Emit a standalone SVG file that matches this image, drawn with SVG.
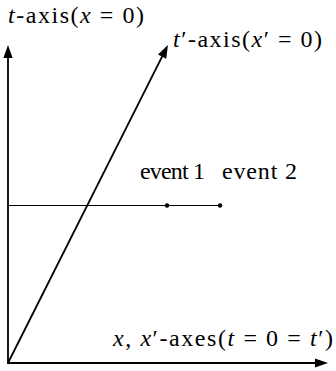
<svg xmlns="http://www.w3.org/2000/svg" width="336" height="371" viewBox="0 0 336 371">
<style>
.t{font-family:'Liberation Serif','Times New Roman',serif;font-size:24px;fill:#000}
.i{font-style:italic}
.ax{stroke:#000;stroke-width:1.8;fill:none}
.ln{stroke:#000;stroke-width:1.1;fill:none}
</style>
<defs>
<marker id="ah" markerUnits="userSpaceOnUse" markerWidth="15" markerHeight="11" viewBox="-11 -5.5 15 11" refX="0" refY="0" orient="auto">
<path d="M3,0 L-10,-4.6 L-10,4.6 Z" fill="#000"/>
</marker>
</defs>
<rect width="336" height="371" fill="#fff"/>
<g id="connectors">
<line class="ax" x1="8" y1="364" x2="8" y2="48" marker-end="url(#ah)"/>
<line class="ax" x1="7.2" y1="363" x2="325" y2="363" marker-end="url(#ah)"/>
<line class="ax" x1="8" y1="363" x2="166.6" y2="47.7" marker-end="url(#ah)"/>
<line class="ln" x1="8" y1="205.5" x2="220" y2="205.5"/>
</g>
<g id="t-axis-label"><text class="t" x="8" y="23" textLength="136" lengthAdjust="spacing"><tspan class="i">t</tspan>-axis(<tspan class="i">x</tspan> = 0)</text></g>
<g id="tprime-axis-label"><text class="t" x="173" y="47" textLength="149" lengthAdjust="spacing"><tspan class="i">t</tspan>′-axis(<tspan class="i">x</tspan>′ = 0)</text></g>
<g id="x-axes-label"><text class="t" x="113" y="346" textLength="220" lengthAdjust="spacing"><tspan class="i">x</tspan>, <tspan class="i">x</tspan>′-axes(<tspan class="i">t</tspan> = 0 = <tspan class="i">t</tspan>′)</text></g>
<g id="event1"><circle cx="167" cy="205.5" r="2.2" fill="#000"/><text class="t" x="140" y="179" textLength="65" lengthAdjust="spacing">event 1</text></g>
<g id="event2"><circle cx="220" cy="205.5" r="2.2" fill="#000"/><text class="t" x="222" y="179" textLength="75" lengthAdjust="spacing">event 2</text></g>
</svg>
